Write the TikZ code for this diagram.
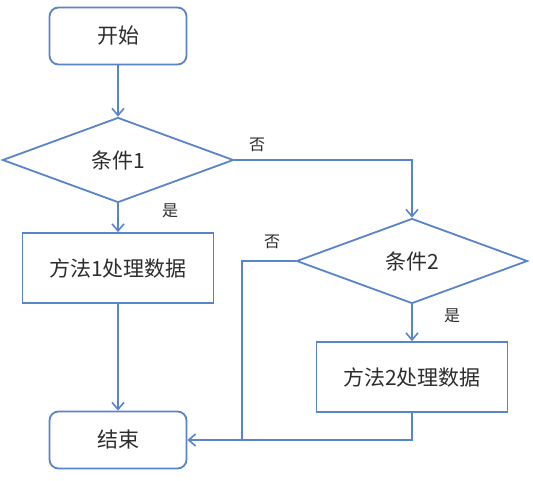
\documentclass[tikz,border=0pt]{standalone}
\usepackage{fontspec}
\setmainfont{Noto Sans CJK SC}
\usetikzlibrary{positioning, arrows.meta, shapes.geometric, calc}
\definecolor{flowBlue}{RGB}{88,132,204}
\definecolor{flowText}{RGB}{45,45,45}

\begin{document}
\begin{tikzpicture}[x=1pt, y=-1pt,
		box/.style={draw=flowBlue, line width=1.8pt, fill=white, text=flowText, font=\fontsize{21}{24}\selectfont, inner sep=0pt},
		terminal/.style={box, rounded corners=9pt, minimum width=137pt, minimum height=57pt},
		process/.style={box, minimum width=191pt, minimum height=70pt},
		decision/.style={box, diamond, aspect=2.7, minimum width=231pt, minimum height=85pt},
		flow/.style={draw=flowBlue, line width=1.8pt, -{Straight Barb[length=7pt, width=12pt, line width=1.6pt]}},
		plain/.style={draw=flowBlue, line width=1.8pt},
		tag/.style={text=flowText, font=\fontsize{16}{18}\selectfont}]
	\useasboundingbox (0,0) rectangle (533,480);
	% main column
	\node[terminal] (start) at (118,36) {开始};
	\node[decision] (cond1) at (118,160) {条件1};
	\node[process] (work1) at (118,268) {方法1处理数据};
	\node[terminal] (finish) at (118,440) {结束};
	% right branch
	\node[decision] (cond2) at (412,261) {条件2};
	\node[process] (work2) at (412,377) {方法2处理数据};
	\coordinate (join) at (242,440);
	% labels
	\node[tag] (no1) at (257,145) {否};
	\node[tag] (yes1) at (170,211) {是};
	\node[tag] (no2) at (272,242) {否};
	\node[tag] (yes2) at (452,316) {是};
	% connectors
	\draw[flow] (start.south) -- (cond1.north);
	\draw[flow] (cond1.south) -- (work1.north);
	\draw[flow] (work1.south) -- (finish.north);
	\draw[flow] (cond1.east) -| (cond2.north);
	\draw[flow] (cond2.south) -- (work2.north);
	\draw[plain] (work2.south) |- (join);
	\draw[flow] (cond2.west) -| (join) -- (finish.east);
\end{tikzpicture}
\end{document}
